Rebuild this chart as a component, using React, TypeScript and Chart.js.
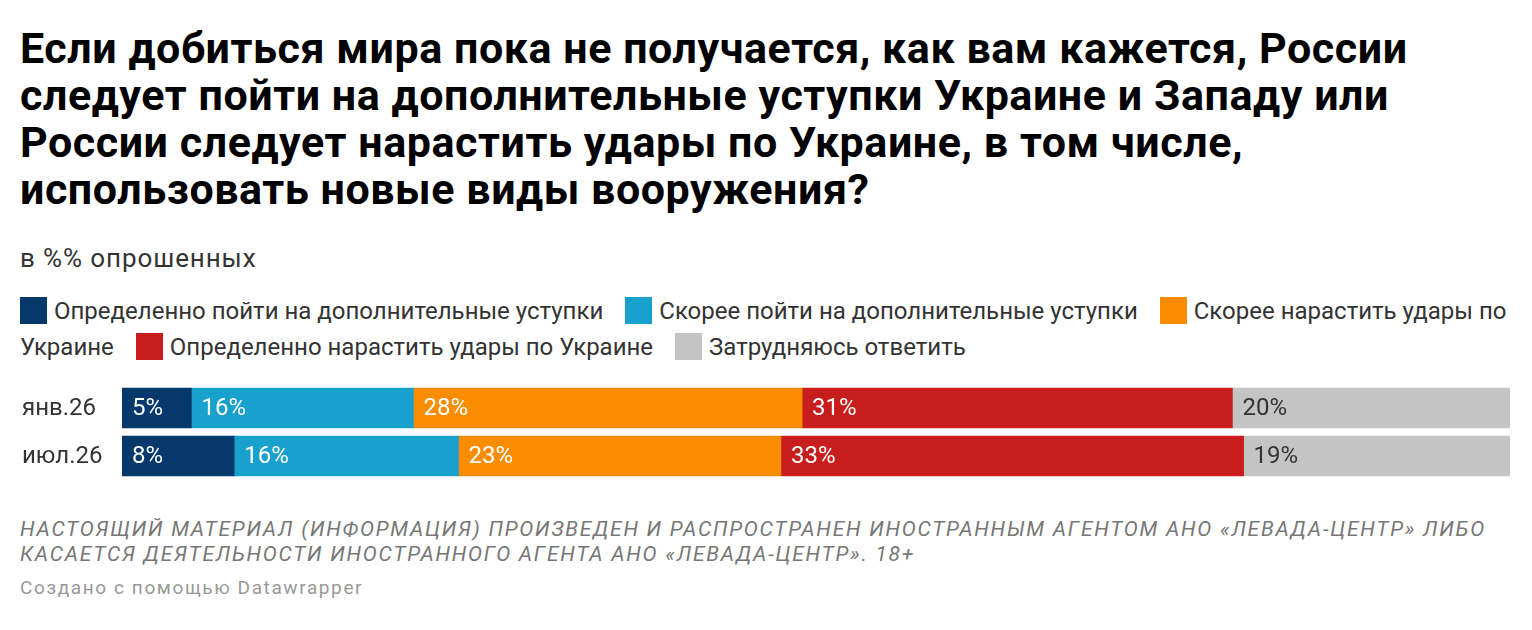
import { useEffect, useRef } from "react";
import { Chart, registerables } from "chart.js";

Chart.register(...registerables);

const rows = ["янв.26", "июл.26"];
const seriesNames = [
  "Определенно пойти на дополнительные уступки",
  "Скорее пойти на дополнительные уступки",
  "Скорее нарастить удары по Украине",
  "Определенно нарастить удары по Украине",
  "Затрудняюсь ответить",
];
const definitelyConcede = [5, 8];
const ratherConcede = [16, 16];
const ratherStrike = [28, 23];
const definitelyStrike = [31, 33];
const hardToSay = [20, 19];

const seriesValues = [definitelyConcede, ratherConcede, ratherStrike, definitelyStrike, hardToSay];
const colors = ["#05386b", "#18a1cd", "#fa8c00", "#c71e1d", "#c4c4c4"];
const labelColors = ["#fff", "#fff", "#fff", "#fff", "#333"];

const FONT = "Roboto, 'Noto Sans', sans-serif";

// datawrapper scales each row to its own total
const rowTotals = rows.map((_, j) => seriesValues.reduce((s, arr) => s + arr[j], 0));

// row names on the left and values inside the bars
const barText = {
  id: "barText",
  afterDatasetsDraw(chart: any) {
    const ctx = chart.ctx;
    const yScale = chart.scales.y;
    ctx.save();
    ctx.font = `24px ${FONT}`;
    ctx.textBaseline = "middle";
    ctx.textAlign = "left";
    ctx.fillStyle = "#333";
    rows.forEach((r, j) => ctx.fillText(r, 22, yScale.getPixelForValue(j) + 1));
    chart.data.datasets.forEach((ds: any, i: number) => {
      const meta = chart.getDatasetMeta(i);
      meta.data.forEach((bar: any, j: number) => {
        const { x, y, base } = bar.getProps(["x", "y", "base"], true);
        ctx.fillStyle = labelColors[i];
        ctx.fillText(seriesValues[i][j] + "%", Math.min(x, base) + 10, y + 1);
      });
    });
    ctx.restore();
  },
};

function BarChart() {
  const ref = useRef<HTMLCanvasElement>(null);

  useEffect(() => {
    if (!ref.current) return;
    const chart = new Chart(ref.current, {
      type: "bar",
      data: {
        labels: rows,
        datasets: seriesNames.map((name, i) => ({
          label: name,
          data: seriesValues[i].map((v, j) => (v / rowTotals[j]) * 100),
          backgroundColor: colors[i],
          borderWidth: 0,
          barThickness: 40,
        })),
      },
      options: {
        indexAxis: "y",
        animation: false,
        responsive: false,
        layout: { padding: { left: 122, right: 22, top: 0, bottom: 0 } },
        plugins: { legend: { display: false }, tooltip: { enabled: false } },
        scales: {
          x: { stacked: true, min: 0, max: 100, display: false },
          y: { stacked: true, display: false },
        },
      },
      plugins: [barText],
    });
    return () => chart.destroy();
  }, []);

  return <canvas ref={ref} width={1532} height={96} style={{ display: "block", width: 1532, height: 96 }} />;
}

export default function App() {
  return (
    <div style={{ position: "absolute", left: 0, top: 0, width: 1532, height: 630, background: "#fff", fontFamily: FONT, color: "#333" }}>
      <div style={{ position: "absolute", left: 20, top: 25, fontSize: 43, letterSpacing: 0.55, fontWeight: 700, lineHeight: "47px", color: "#000", whiteSpace: "nowrap" }}>
        Если добиться мира пока не получается, как вам кажется, России
        <br />
        следует пойти на дополнительные уступки Украине и Западу или
        <br />
        России следует нарастить удары по Украине, в том числе,
        <br />
        использовать новые виды вооружения?
      </div>
      <div style={{ position: "absolute", left: 20, top: 243, fontSize: 26, letterSpacing: 0.9, lineHeight: "30px" }}>в %% опрошенных</div>
      <div style={{ position: "absolute", left: 20, top: 293, width: 1495, fontSize: 24, lineHeight: "36px" }}>
        {seriesNames.map((name, i) => (
          <span key={name} style={{ marginRight: 22 }}>
            <span style={{ display: "inline-block", width: 27, height: 27, background: colors[i], verticalAlign: "-5px", marginRight: 7 }} />
            {name.split(" ").map((w, k, arr) => (
              <span key={k}>{w + (k < arr.length - 1 ? " " : "")}</span>
            ))}
          </span>
        ))}
      </div>
      <div style={{ position: "absolute", left: 0, top: 384, width: 1532, height: 96 }}>
        <BarChart />
      </div>
      <div style={{ position: "absolute", left: 20, top: 517, fontSize: 21, letterSpacing: 1.75, lineHeight: "25px", fontStyle: "italic", color: "#777", whiteSpace: "nowrap" }}>
        НАСТОЯЩИЙ МАТЕРИАЛ (ИНФОРМАЦИЯ) ПРОИЗВЕДЕН И РАСПРОСТРАНЕН ИНОСТРАННЫМ АГЕНТОМ АНО «ЛЕВАДА-ЦЕНТР» ЛИБО
        <br />
        КАСАЕТСЯ ДЕЯТЕЛЬНОСТИ ИНОСТРАННОГО АГЕНТА АНО «ЛЕВАДА-ЦЕНТР». 18+
      </div>
      <div style={{ position: "absolute", left: 20, top: 576, fontSize: 19, letterSpacing: 1.6, lineHeight: "24px", color: "#999" }}>Создано с помощью Datawrapper</div>
    </div>
  );
}
